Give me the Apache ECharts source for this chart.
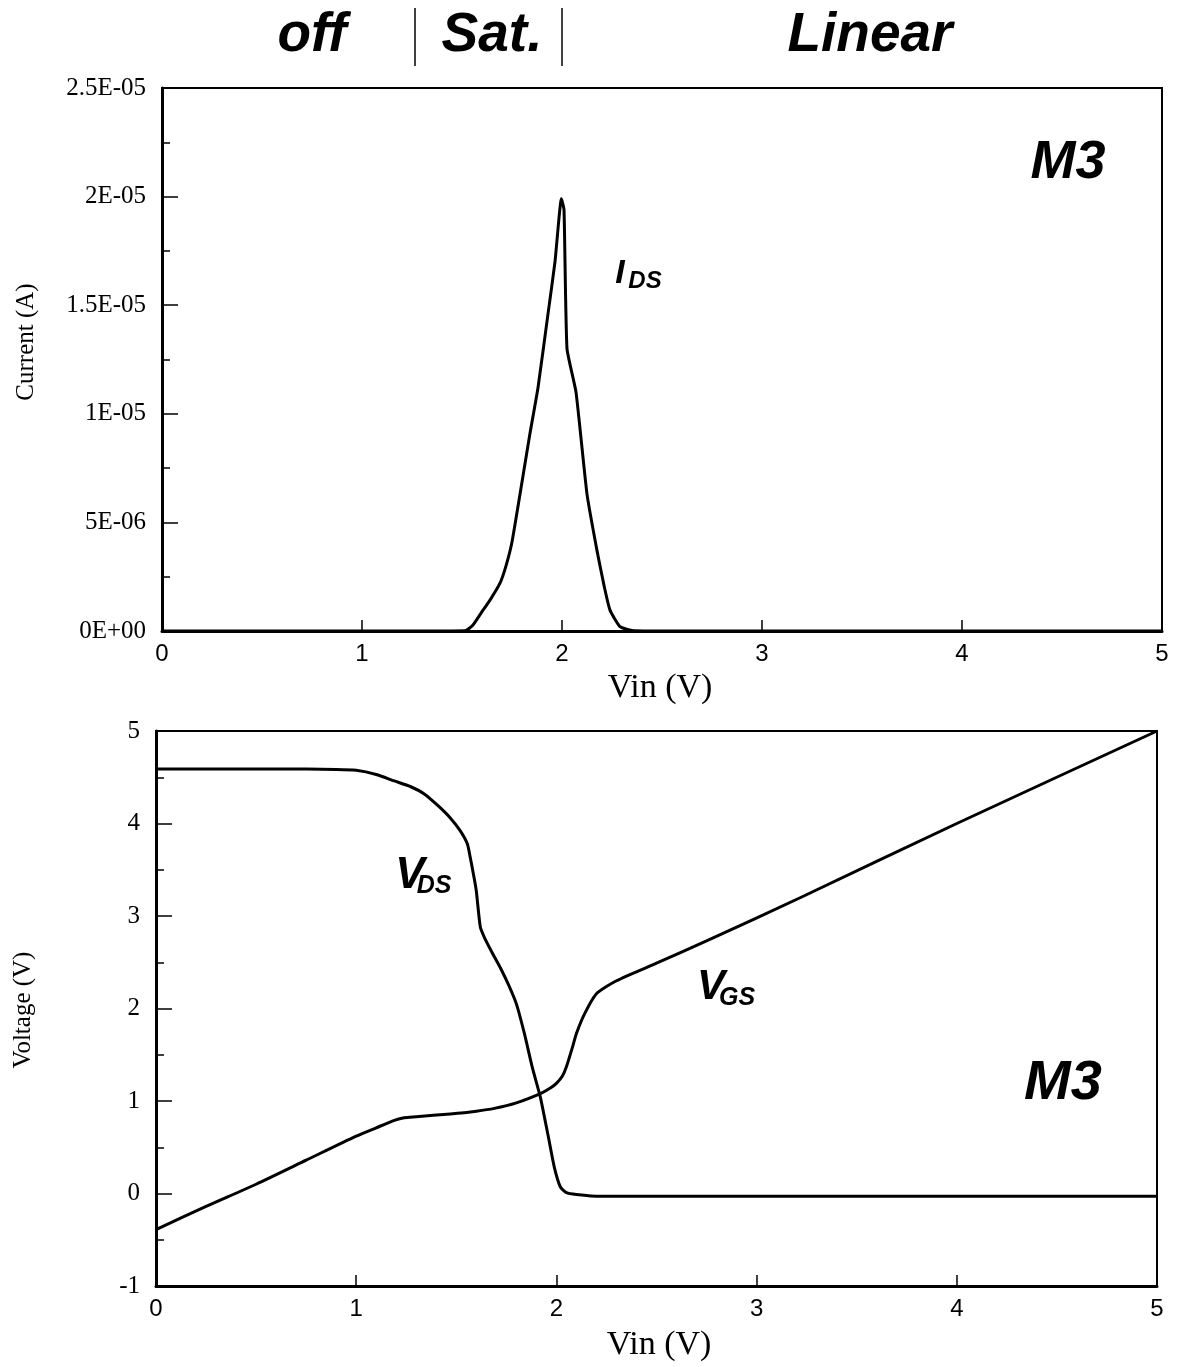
<!DOCTYPE html>
<html>
<head>
<meta charset="utf-8">
<title>M3 operating regions</title>
<script src="https://cdn.jsdelivr.net/npm/echarts@6/dist/echarts.min.js"></script>
<style>
  html, body { margin: 0; padding: 0; background: #fff; }
  #chart { width: 1178px; height: 1367px; }
</style>
</head>
<body>
<div id="chart"></div>
<script>
// ---- Drain current of M3 versus input voltage (A) ----
const vinIds = [0, 1.0, 1.45, 1.52, 1.555, 1.605, 1.64, 1.69, 1.72, 1.75, 1.79, 1.84, 1.88, 1.93, 1.965, 1.997,
                2.01, 2.025, 2.07, 2.125, 2.175, 2.21, 2.24, 2.29, 2.35, 2.45, 5];
const ids    = [0, 0, 0, 0.02e-6, 0.28e-6, 0.96e-6, 1.42e-6, 2.2e-6, 3.0e-6, 4.1e-6, 6.3e-6, 9.1e-6, 11.2e-6, 14.6e-6, 17.0e-6, 19.9e-6,
                19.4e-6, 13.0e-6, 11.0e-6, 6.3e-6, 3.7e-6, 2.1e-6, 0.96e-6, 0.2e-6, 0.02e-6, 0, 0];

// ---- Drain-source voltage of M3 (V) ----
const vinVds = [0, 0.6, 0.9, 1.0, 1.1, 1.19, 1.27, 1.34, 1.41, 1.47, 1.52, 1.555, 1.57, 1.59, 1.60, 1.62, 1.64,
                1.68, 1.72, 1.76, 1.80, 1.84, 1.88, 1.92, 1.96, 1.99, 2.02, 2.05, 2.1, 2.22, 5];
const vds    = [4.59, 4.59, 4.585, 4.575, 4.53, 4.46, 4.40, 4.32, 4.19, 4.06, 3.92, 3.78, 3.63, 3.40, 3.27, 2.88, 2.77,
                2.60, 2.44, 2.26, 2.05, 1.73, 1.36, 1.04, 0.61, 0.28, 0.07, 0.01, -0.01, -0.03, -0.03];

// ---- Gate-source voltage of M3 (V) ----
const vinVgs = [0, 0.25, 0.5, 0.75, 1.0, 1.1, 1.19, 1.24, 1.3, 1.47, 1.6, 1.69, 1.80, 1.92, 1.97, 2.0, 2.03, 2.05,
                2.08, 2.10, 2.14, 2.20, 2.30, 2.5, 2.75, 3.22, 4.0, 5.0];
const vgs    = [-0.39, -0.14, 0.10, 0.36, 0.62, 0.71, 0.79, 0.82, 0.83, 0.86, 0.89, 0.92, 0.98, 1.08, 1.14, 1.19, 1.27, 1.37,
                1.58, 1.73, 1.94, 2.16, 2.30, 2.49, 2.73, 3.20, 4.0, 5.0];

// ---- Axis ticks ----
const vinTicks = [0, 1, 2, 3, 4, 5];
const currentTicks = [0, 5e-6, 1e-5, 1.5e-5, 2e-5, 2.5e-5];
const currentTickLabels = ['0E+00', '5E-06', '1E-05', '1.5E-05', '2E-05', '2.5E-05'];
const voltageTicks = [-1, 0, 1, 2, 3, 4, 5];

// ---- Operating regions along Vin ----
const regionNames = ['off', 'Sat.', 'Linear'];
const regionBounds = [1.265, 2.0];

const pairs = (xs, ys) => xs.map((x, i) => [x, ys[i]]);

const SERIF = '"Liberation Serif", "Times New Roman", serif';
const SANS = '"Liberation Sans", Arial, Helvetica, sans-serif';
const INK = '#000';

function xAxisFor(gridIndex) {
  return {
    type: 'value', gridIndex,
    min: vinTicks[0], max: vinTicks[vinTicks.length - 1], interval: vinTicks[1] - vinTicks[0],
    axisLine: { show: true, onZero: false, lineStyle: { color: INK, width: 3 } },
    axisTick: { show: true, inside: true, length: 11, lineStyle: { color: INK, width: 1.5 } },
    axisLabel: { color: INK, fontFamily: SANS, fontSize: 24, margin: 11 },
    splitLine: { show: false }
  };
}

function yAxisFor(gridIndex, ticks, labels) {
  return {
    type: 'value', gridIndex,
    min: ticks[0], max: ticks[ticks.length - 1], interval: ticks[1] - ticks[0],
    axisLine: { show: true, onZero: false, lineStyle: { color: INK, width: 3 } },
    axisTick: { show: true, inside: true, length: 16, lineStyle: { color: INK, width: 1.5 } },
    minorTick: { show: true, splitNumber: 2, length: 8, lineStyle: { color: INK, width: 1.5 } },
    axisLabel: {
      color: INK, fontFamily: SERIF, fontSize: 25, margin: 16,
      formatter: v => {
        let best = 0;
        ticks.forEach((t, i) => { if (Math.abs(t - v) < Math.abs(ticks[best] - v)) best = i; });
        return labels[best];
      }
    },
    splitLine: { show: false },
    minorSplitLine: { show: false }
  };
}

function curve(name, xIdx, yIdx, xs, ys, smooth) {
  return {
    name, type: 'line', xAxisIndex: xIdx, yAxisIndex: yIdx,
    data: pairs(xs, ys),
    showSymbol: false, symbol: 'none',
    smooth: smooth,
    lineStyle: { color: INK, width: 3, join: 'round' },
    z: 3
  };
}

const chart = echarts.init(document.getElementById('chart'), null, { renderer: 'canvas' });

chart.setOption({
  animation: false,
  backgroundColor: '#fff',
  grid: [
    { left: 162, top: 88, width: 1000, height: 543, show: true, borderColor: INK, borderWidth: 2, backgroundColor: 'transparent' },
    { left: 156, top: 731, width: 1001, height: 555, show: true, borderColor: INK, borderWidth: 2, backgroundColor: 'transparent' }
  ],
  xAxis: [xAxisFor(0), xAxisFor(1)],
  yAxis: [
    yAxisFor(0, currentTicks, currentTickLabels),
    yAxisFor(1, voltageTicks, voltageTicks.map(String))
  ],
  series: [
    curve('IDS', 0, 0, vinIds, ids, 0.15),
    curve('VDS', 1, 1, vinVds, vds, 0.2),
    curve('VGS', 1, 1, vinVgs, vgs, 0.2)
  ]
});

// ---- Text and region markers ----
function label(text, x, y, size, opts) {
  opts = opts || {};
  return {
    type: 'text', x, y, rotation: opts.rotation || 0, z: 10,
    style: {
      text, fill: INK,
      fontFamily: opts.family || SANS,
      fontSize: size,
      fontWeight: opts.weight || 'bold',
      fontStyle: opts.style || 'italic',
      align: 'center', verticalAlign: 'middle'
    }
  };
}

const boundaryX = regionBounds.map(v => chart.convertToPixel({ gridIndex: 0 }, [v, 0])[0]);

const graphics = [
  label(regionNames[0], 312, 36, 55),
  label(regionNames[1], 492, 36, 55),
  label(regionNames[2], 870, 36, 55),
  ...boundaryX.map(x => ({
    type: 'line', z: 10,
    shape: { x1: x, y1: 8, x2: x, y2: 66 },
    style: { stroke: INK, lineWidth: 1.5 }
  })),
  // device name tags
  label('M3', 1068, 163, 54),
  label('M3', 1063, 1084, 56),
  // curve names
  label('I', 620, 274, 34),
  label('DS', 645, 281, 24),
  label('V', 410, 876, 44),
  label('DS', 434, 886, 25),
  label('V', 711, 987, 42),
  label('GS', 737, 998, 25),
  // axis titles
  label('Current (A)', 26, 342, 25, { family: SERIF, weight: 'normal', style: 'normal', rotation: Math.PI / 2 }),
  label('Voltage (V)', 23, 1010, 25, { family: SERIF, weight: 'normal', style: 'normal', rotation: Math.PI / 2 }),
  label('Vin (V)', 660, 688, 34, { family: SERIF, weight: 'normal', style: 'normal' }),
  label('Vin (V)', 659, 1345, 34, { family: SERIF, weight: 'normal', style: 'normal' })
];

chart.setOption({ graphic: graphics });
</script>
</body>
</html>
